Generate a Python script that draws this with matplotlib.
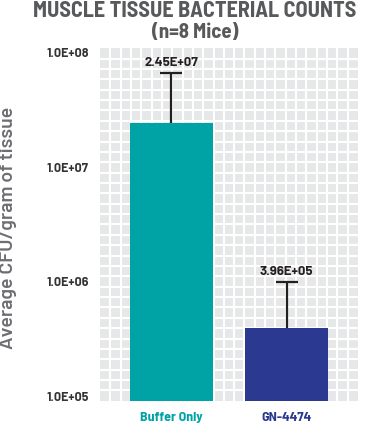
import matplotlib
matplotlib.use("Agg")
import matplotlib.pyplot as plt
import numpy as np

categories = ["Buffer Only", "GN-4474"]
values = [2.45e7, 3.96e5]
err_upper = [4.2e7, 5.9e5]
value_labels = ["2.45E+07", "3.96E+05"]
bar_colors = ["#00A3A5", "#2B3990"]
tick_values = [1e5, 1e6, 1e7, 1e8]
tick_labels = ["1.0E+05", "1.0E+06", "1.0E+07", "1.0E+08"]

COND = ["Barlow Semi Condensed", "DejaVu Sans"]
NORM = ["Barlow", "DejaVu Sans"]
W, H = 374, 423
fig = plt.figure(figsize=(W / 100, H / 100), dpi=100)
left, right, top, bottom = 100, 358, 48.3, 400.7
ax = fig.add_axes([left / W, 1 - bottom / H, (right - left) / W, (bottom - top) / H])

ymin, ymax = 10 ** 4.959, 10 ** 8.041
ax.set_yscale("log")
ax.set_ylim(ymin, ymax)
ax.set_xlim(-0.62, 1.62)
ax.set_facecolor("#E6E7E8")

# background tile grid (decorative, in axes fraction)
ncols, nrows = 25, 34
for i in range(1, ncols):
    ax.plot([i / ncols, i / ncols], [0, 1], color="white", lw=1.5, transform=ax.transAxes, zorder=1)
for j in range(1, nrows):
    ax.plot([0, 1], [j / nrows, j / nrows], color="white", lw=1.5, transform=ax.transAxes, zorder=1)

x = np.arange(len(categories))
ax.bar(x, [v - ymin for v in values], bottom=ymin, width=0.72, color=bar_colors, zorder=3)
eb = ax.errorbar(x, values, yerr=[np.zeros(len(values)), err_upper], fmt="none",
                 ecolor="#231F20", elinewidth=1.6, capsize=8, capthick=1.6, zorder=4)
eb[1][0].set_visible(False)
for xi, v, e, lab in zip(x, values, err_upper, value_labels):
    ax.annotate(lab, (xi, v + e), xytext=(0, 4), textcoords="offset points",
                ha="center", va="bottom", fontsize=9.5, fontweight="bold", color="#231F20",
                family=NORM, zorder=5)

ax.set_yticks(tick_values)
ax.set_yticklabels(tick_labels, fontsize=9, fontweight="bold", color="#333333", family=NORM)
ax.minorticks_off()
ax.tick_params(axis="y", length=0, pad=8)
ax.set_xticks(x)
ax.set_xticklabels(categories, fontsize=10, fontweight="bold", family=COND)
for t, c in zip(ax.get_xticklabels(), bar_colors):
    t.set_color(c)
ax.tick_params(axis="x", length=0, pad=8)
for s in ax.spines.values():
    s.set_visible(False)

ax.set_ylabel("Average CFU/gram of tissue", fontsize=14, fontweight=600, color="#6D6E71",
              family=NORM)
ax.yaxis.set_label_coords(-(left - 17) / (right - left), 0.49)

fig.text(195 / W, 1 - 11 / H, "MUSCLE TISSUE BACTERIAL COUNTS", ha="center", va="center",
         fontsize=16, fontweight="bold", color="#58595B", family=COND)
fig.text(195 / W, 1 - 32 / H, "(n=8 Mice)", ha="center", va="center",
         fontsize=15, fontweight="bold", color="#58595B", family=COND)

fig.savefig("out.png", dpi=100)
